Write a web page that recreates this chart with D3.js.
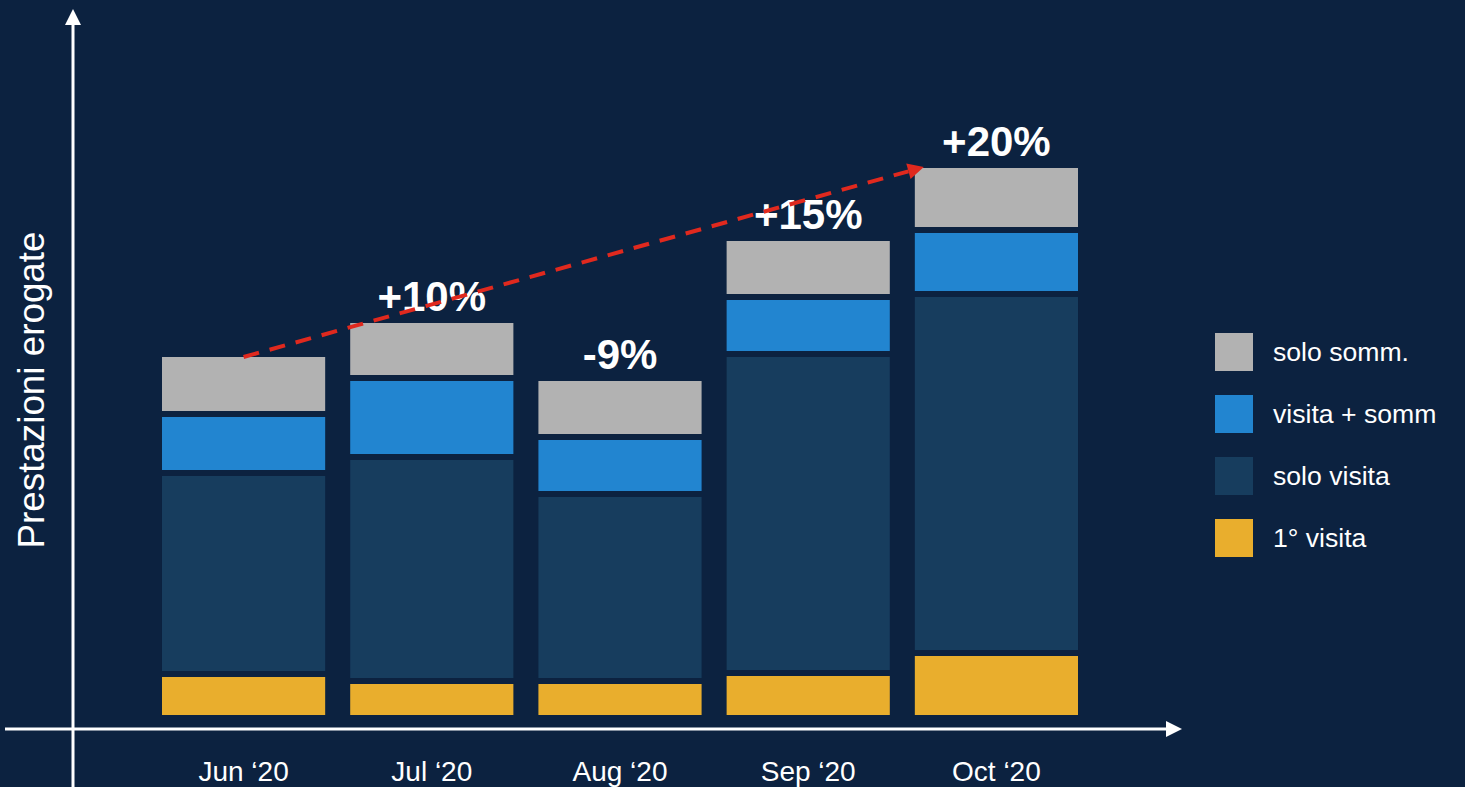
<!DOCTYPE html>
<html>
<head>
<meta charset="utf-8">
<script src="https://cdn.jsdelivr.net/npm/d3@7"></script>
<style>
  html, body { margin: 0; padding: 0; background: #0c2240; }
  svg { display: block; }
  text { font-family: "Liberation Sans", Arial, sans-serif; fill: #ffffff; }
</style>
</head>
<body>
<svg id="chart" width="1465" height="787"></svg>
<script>
// ---------- data ----------
const categories = ["Jun ‘20", "Jul ‘20", "Aug ‘20", "Sep ‘20", "Oct ‘20"];
const primaVisita  = [38, 31, 31, 39, 59];
const soloVisita   = [201, 224, 187, 319, 359];
const visitaSomm   = [59, 79, 57, 57, 64];
const soloSomm     = [60, 58, 59, 59, 65];
const seriesNames  = ["1° visita", "solo visita", "visita + somm", "solo somm."];
const changeLabels = ["", "+10%", "-9%", "+15%", "+20%"];
const legendOrder  = ["solo somm.", "visita + somm", "solo visita", "1° visita"];

// ---------- styles ----------
const colors = {
  "1° visita": "#e9ae2d",
  "solo visita": "#173d5e",
  "visita + somm": "#2285d0",
  "solo somm.": "#b2b2b2"
};
const gap = 6;

const svg = d3.select("#chart");
svg.append("rect").attr("width", 1465).attr("height", 787).attr("fill", "#0c2240");

const x = d3.scaleBand().domain(categories)
  .range([149.5, 1090.5]).paddingInner(0.133).paddingOuter(0.0664);
const y = d3.scaleLinear().domain([0, 560]).range([715, 155]);

const rows = categories.map((c, i) => ({
  cat: c,
  "1° visita": primaVisita[i],
  "solo visita": soloVisita[i],
  "visita + somm": visitaSomm[i],
  "solo somm.": soloSomm[i]
}));
const stack = d3.stack().keys(seriesNames)(rows);

// bars
const layers = svg.append("g").selectAll("g").data(stack).join("g")
  .attr("fill", d => colors[d.key]);
layers.selectAll("rect").data(d => d).join("rect")
  .attr("x", d => x(d.data.cat))
  .attr("width", x.bandwidth())
  .attr("y", d => y(d[1]))
  .attr("height", d => (y(d[0]) - y(d[1])) - (d[0] > 0 ? gap : 0));

// axes
const axisG = svg.append("g");
axisG.append("line").attr("x1", 5).attr("x2", 1168).attr("y1", 729).attr("y2", 729)
  .attr("stroke", "#fff").attr("stroke-width", 3);
axisG.append("path").attr("d", "M1166,721 L1182,729 L1166,737 Z").attr("fill", "#fff");
axisG.append("line").attr("x1", 73).attr("x2", 73).attr("y1", 787).attr("y2", 24)
  .attr("stroke", "#fff").attr("stroke-width", 3);
axisG.append("path").attr("d", "M65,25 L73,9 L81,25 Z").attr("fill", "#fff");

// category labels
svg.append("g").selectAll("text").data(categories).join("text")
  .attr("x", d => x(d) + x.bandwidth() / 2)
  .attr("y", 781)
  .attr("text-anchor", "middle")
  .attr("font-size", 28)
  .text(d => d);

// y title
svg.append("text")
  .attr("transform", "translate(44,390) rotate(-90)")
  .attr("text-anchor", "middle")
  .attr("font-size", 36.8)
  .text("Prestazioni erogate");

// change labels
const totals = rows.map(r => seriesNames.reduce((s, k) => s + r[k], 0));
svg.append("g").selectAll("text").data(categories).join("text")
  .attr("x", d => x(d) + x.bandwidth() / 2)
  .attr("y", (d, i) => y(totals[i]) - 12)
  .attr("text-anchor", "middle")
  .attr("font-size", 42)
  .attr("font-weight", "bold")
  .text((d, i) => changeLabels[i]);

// dashed red trend arrow
const x0 = x(categories[0]) + x.bandwidth() / 2, y0 = y(totals[0]);
const x1 = x(categories[4]) + 9, y1 = y(totals[4]) - 1;
const ang = Math.atan2(y1 - y0, x1 - x0);
const headLen = 16, headW = 8;
const bx = x1 - headLen * Math.cos(ang), by = y1 - headLen * Math.sin(ang);
svg.append("line")
  .attr("x1", x0).attr("y1", y0).attr("x2", bx).attr("y2", by)
  .attr("stroke", "#e0291e").attr("stroke-width", 4)
  .attr("stroke-dasharray", "16,11");
const px = -Math.sin(ang), py = Math.cos(ang);
svg.append("path")
  .attr("d", `M${x1},${y1} L${bx + px * headW},${by + py * headW} L${bx - px * headW},${by - py * headW} Z`)
  .attr("fill", "#e0291e");

// legend
const lg = svg.append("g").selectAll("g").data(legendOrder).join("g")
  .attr("transform", (d, i) => `translate(1215,${333 + i * 62})`);
lg.append("rect").attr("width", 38).attr("height", 38).attr("fill", d => colors[d]);
lg.append("text").attr("x", 58).attr("y", 19).attr("dy", "0.35em")
  .attr("font-size", 26.6).text(d => d);
</script>
</body>
</html>
